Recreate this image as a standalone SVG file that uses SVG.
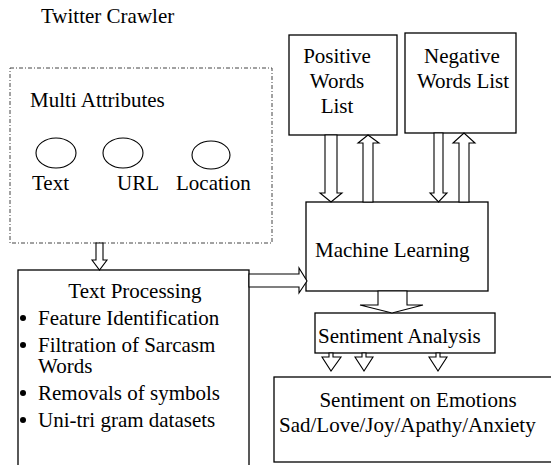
<svg xmlns="http://www.w3.org/2000/svg" width="551" height="465" viewBox="0 0 551 465" font-family="'Liberation Serif', 'DejaVu Serif', serif">
<style>
text{font-family:'Liberation Serif','DejaVu Serif',serif;font-size:21px;fill:#000}
.box{fill:#fff;stroke:#000;stroke-width:1.3}
.dash{fill:none;stroke:#444;stroke-width:1;stroke-dasharray:4,2,1,2}
.arr{fill:#fff;stroke:#000;stroke-width:1.1;stroke-linejoin:miter}
.ell{fill:none;stroke:#000;stroke-width:1.1}
.c{text-anchor:middle}
</style>
<rect width="551" height="465" fill="#fff"/>
<text x="41" y="23">Twitter Crawler</text>
<g id="multi">
<rect class="dash" x="10" y="68" width="262" height="175"/>
<text x="30" y="107">Multi Attributes</text>
<ellipse class="ell" cx="56" cy="153" rx="20" ry="15"/>
<ellipse class="ell" cx="123" cy="153" rx="20" ry="15"/>
<ellipse class="ell" cx="211" cy="155" rx="19" ry="14"/>
<text x="32" y="190">Text</text>
<text x="117" y="190">URL</text>
<text x="176" y="190">Location</text>
</g>
<g id="positive">
<rect class="box" x="289" y="35" width="108" height="100"/>
<text class="c" x="337" y="63">Positive</text>
<text class="c" x="337" y="88">Words</text>
<text class="c" x="337" y="113">List</text>
</g>
<g id="negative">
<rect class="box" x="405" y="33" width="111" height="100"/>
<text class="c" x="462" y="63">Negative</text>
<text class="c" x="463" y="88">Words List</text>
</g>
<g id="ml">
<rect class="box" x="306" y="202" width="182" height="89"/>
<text x="315" y="257">Machine Learning</text>
</g>
<g id="textproc">
<rect class="box" x="18" y="270" width="231" height="210"/>
<text class="c" x="135" y="298">Text Processing</text>
<circle cx="23" cy="318" r="3"/>
<text x="38" y="325">Feature Identification</text>
<circle cx="23" cy="345" r="3"/>
<text x="38" y="352">Filtration of Sarcasm</text>
<text x="38" y="373">Words</text>
<circle cx="23" cy="393" r="3"/>
<text x="38" y="400">Removals of symbols</text>
<circle cx="23" cy="420" r="3"/>
<text x="38" y="427">Uni-tri  gram datasets</text>
</g>
<g id="sa">
<rect class="box" x="315" y="313" width="180" height="40"/>
<text x="318" y="343">Sentiment Analysis</text>
</g>
<g id="emotions">
<rect class="box" x="274" y="377" width="280" height="85"/>
<text class="c" x="418" y="407">Sentiment on Emotions</text>
<text x="279" y="432">Sad/Love/Joy/Apathy/Anxiety</text>
</g>
<g id="connectors">
<polygon class="arr" points="96,243 103,243 103,260 107,260 99.5,270 92,260 96,260"/>
<polygon class="arr" points="249,274 299,274 299,268 307,281 299,293 299,287 249,287"/>
<polygon class="arr" points="325,135 337,135 337,193 342,193 331,202 320,193 325,193"/>
<polygon class="arr" points="363,202 373,202 373,143 379,143 368,135 358,143 363,143"/>
<polygon class="arr" points="434,133 443,133 443,193 447,193 438.5,202 430,193 434,193"/>
<polygon class="arr" points="459,202 469,202 469,143 475,143 464,133 453,143 459,143"/>
<polygon class="arr" points="378,291 407,291 407,305 423,305 392,313 360,305 378,305"/>
<polygon class="arr" points="329,353 333,353 333,357 341,357 331,371 322,357 329,357"/>
<polygon class="arr" points="362,353 366,353 366,357 373,357 364,371 355,357 362,357"/>
<polygon class="arr" points="436,353 440,353 440,357 447,357 438,371 429,357 436,357"/>
</g>
</svg>
